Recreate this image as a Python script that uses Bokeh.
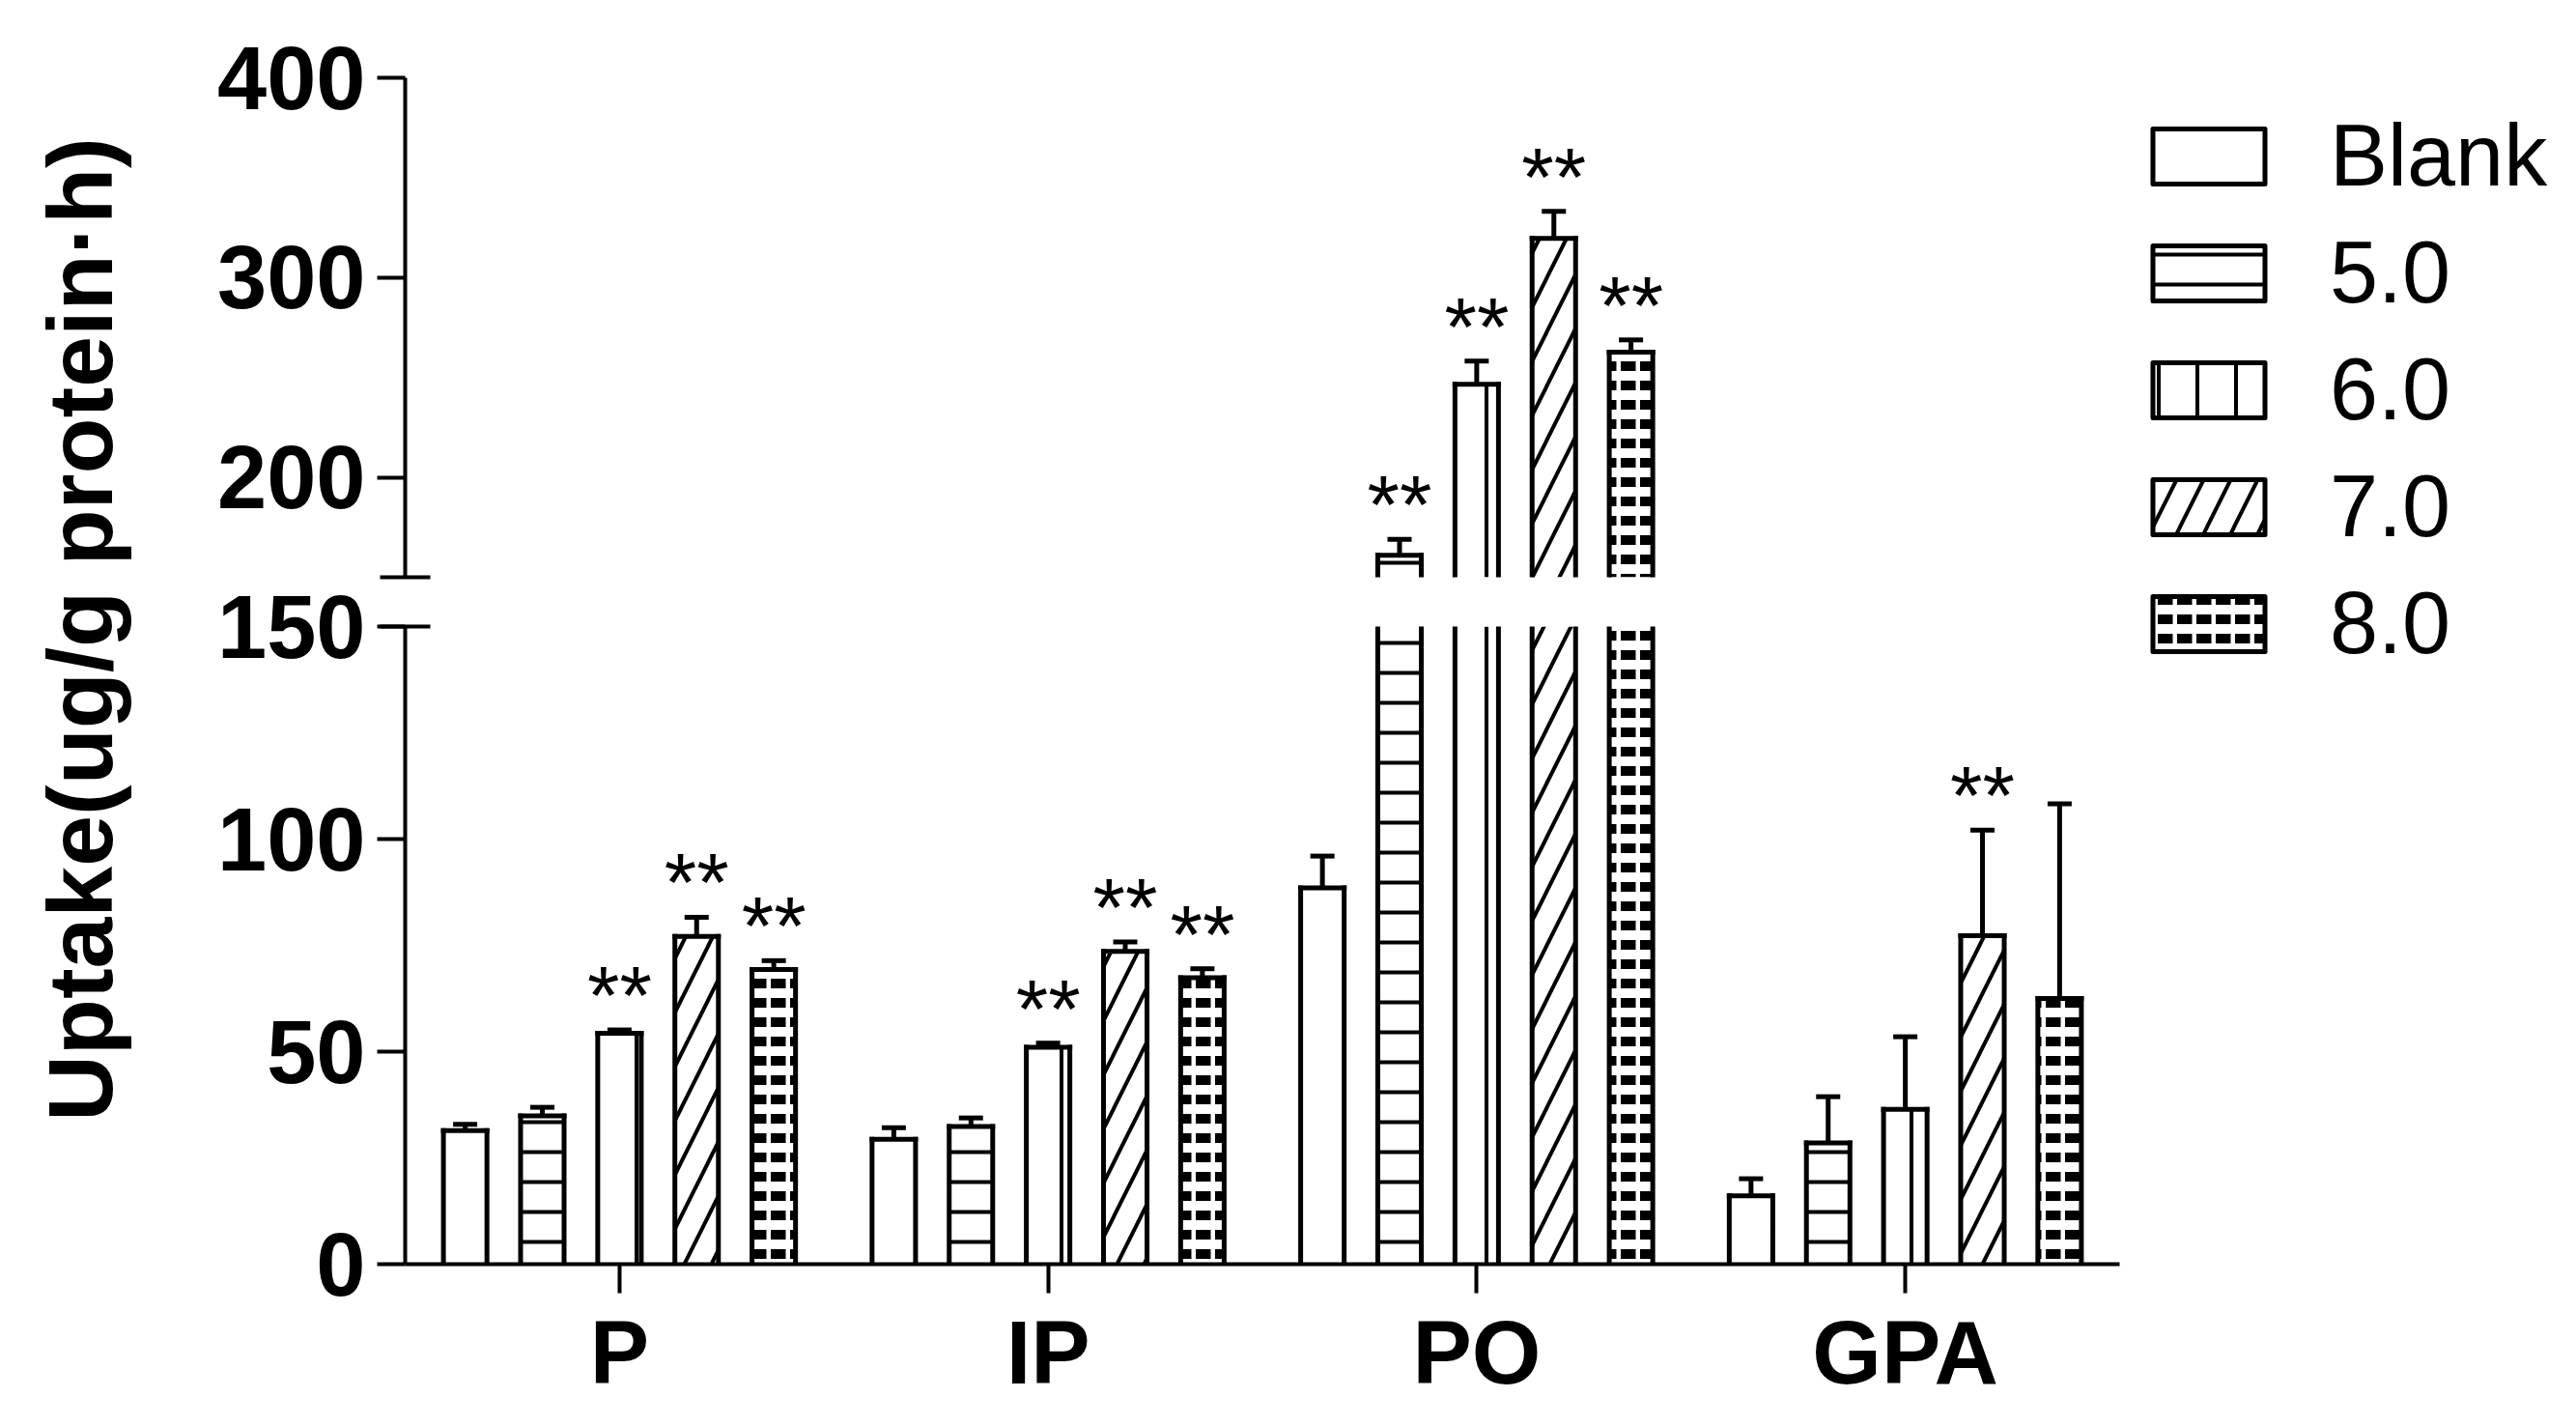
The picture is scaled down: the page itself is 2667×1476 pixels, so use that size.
import math
from bokeh.plotting import figure
from bokeh.models import (FactorRange, Range1d, FixedTicker, Legend, LegendItem,
                          ColumnDataSource, CDSView, BooleanFilter, Spacer)
from bokeh.transform import dodge
from bokeh.layouts import row, column
from bokeh.embed import file_html
from bokeh.resources import INLINE
from bokeh.core.properties import value

# ---------------- data ----------------
groups = ["P", "IP", "PO", "GPA"]
series = ["Blank", "5.0", "6.0", "7.0", "8.0"]

blank = [31.4, 29.4, 88.5, 16.1]
blank_err = [1.5, 2.7, 7.5, 4.0]
ph5 = [34.9, 32.4, 161.0, 28.5]
ph5_err = [2.0, 2.0, 8.0, 10.9]
ph6 = [54.3, 51.0, 246.6, 36.4]
ph6_err = [0.8, 1.0, 11.6, 17.1]
ph7 = [77.1, 73.6, 319.6, 77.3]
ph7_err = [4.5, 2.2, 13.5, 24.8]
ph8 = [69.3, 67.4, 262.7, 62.5]
ph8_err = [2.1, 2.1, 6.1, 45.8]

blank_sig = ["", "", "", ""]
ph5_sig = ["", "", "**", ""]
ph6_sig = ["**", "**", "**", ""]
ph7_sig = ["**", "**", "**", "**"]
ph8_sig = ["**", "**", "**", ""]

BREAK = 150
lower_ticks = [0, 50, 100, 150]
upper_ticks = [200, 300, 400]
y_label = "Uptake(ug/g protein\u00b7h)"

values = [blank, ph5, ph6, ph7, ph8]
errors = [blank_err, ph5_err, ph6_err, ph7_err, ph8_err]
sigs = [blank_sig, ph5_sig, ph6_sig, ph7_sig, ph8_sig]

# ---------------- styles ----------------
FONT = "Liberation Sans"
hatches = [
    dict(hatch_pattern=" "),
    dict(hatch_pattern="horizontal_line", hatch_scale=31, hatch_weight=4),
    dict(hatch_pattern="vertical_line", hatch_scale=40, hatch_weight=4),
    dict(hatch_pattern="right_diagonal_line", hatch_scale=56, hatch_weight=4),
    dict(hatch_pattern="horizontal_dash", hatch_scale=20, hatch_weight=10),
]
STEP = 0.18
BAR_W = 0.1015
LW = 5

LEFT = 261
FRAME_W = 1775
RIGHT = 10
W = LEFT + FRAME_W + RIGHT
OVERLAP = 20

x_range = FactorRange(factors=groups, range_padding=0)


def style_axes(p):
    p.outline_line_color = None
    p.xgrid.visible = False
    p.ygrid.visible = False
    p.background_fill_color = "white"
    for ax in p.yaxis:
        ax.axis_line_width = 4
        ax.major_tick_line_width = 4
        ax.major_tick_out = 29
        ax.major_tick_in = 0
        ax.minor_tick_line_width = 4
        ax.minor_tick_out = 26
        ax.minor_tick_in = 26
        ax.major_label_standoff = 12
        ax.major_label_text_font = FONT
        ax.major_label_text_font_style = "bold"
        ax.major_label_text_font_size = "92px"
        ax.major_label_text_color = "black"
        ax.axis_line_color = "black"
        ax.major_tick_line_color = "black"
        ax.minor_tick_line_color = "black"


def view_of(flags):
    return CDSView(filter=BooleanFilter(booleans=list(flags)))


def draw(p, upper_part):
    for i, s in enumerate(series):
        off = (i - 2) * STEP
        vals = values[i]
        ups = [v + e for v, e in zip(vals, errors[i])]
        src = ColumnDataSource(dict(group=groups, top=vals, upper=ups,
                                    zero=[0] * len(vals), stars=sigs[i]))
        if upper_part:
            bar_on = [v > BREAK for v in vals]
            top_on = bar_on
            err_on = [u > BREAK for u in ups]
            star_on = [u > BREAK and st != "" for u, st in zip(ups, sigs[i])]
        else:
            bar_on = [True] * len(vals)
            top_on = [v <= BREAK for v in vals]
            err_on = [u <= BREAK for u in ups]
            star_on = [u <= BREAK and st != "" for u, st in zip(ups, sigs[i])]
        xc = dodge("group", off, range=x_range)
        xl = dodge("group", off - BAR_W / 2, range=x_range)
        xr = dodge("group", off + BAR_W / 2, range=x_range)
        p.vbar(x=xc, top="top", bottom=0, width=BAR_W, source=src, view=view_of(bar_on),
               fill_color="white", line_color=None, hatch_color="black", **hatches[i])
        p.segment(x0=xl, y0="zero", x1=xl, y1="top", source=src, view=view_of(bar_on),
                  line_color="black", line_width=LW, line_cap="square")
        p.segment(x0=xr, y0="zero", x1=xr, y1="top", source=src, view=view_of(bar_on),
                  line_color="black", line_width=LW, line_cap="square")
        p.segment(x0=xl, y0="top", x1=xr, y1="top", source=src, view=view_of(top_on),
                  line_color="black", line_width=LW, line_cap="square")
        p.segment(x0=xc, y0="top", x1=xc, y1="upper", source=src, view=view_of(err_on),
                  line_color="black", line_width=LW)
        p.scatter(x=xc, y="upper", marker="dash", size=25, source=src, view=view_of(err_on),
                  line_color="black", line_width=LW)
        p.text(x=xc, y="upper", text="stars", source=src, view=view_of(star_on),
               text_align="center", text_baseline="alphabetic", y_offset=-36,
               text_font=value(FONT), text_font_size="86px", text_color="black")


# ---------------- upper segment ----------------
top = figure(width=W, height=599, x_range=x_range, y_range=Range1d(BREAK, 400),
             x_axis_location=None, toolbar_location=None, output_backend="svg",
             min_border_left=LEFT, min_border_right=RIGHT, min_border_top=72,
             min_border_bottom=10)
top.margin = (0, 0, -OVERLAP, 0)
top.border_fill_color = "white"
top.yaxis.ticker = FixedTicker(ticks=upper_ticks, minor_ticks=[BREAK])
style_axes(top)
draw(top, True)

# ---------------- lower segment ----------------
bottom = figure(width=W, height=861 + OVERLAP, x_range=x_range, y_range=Range1d(0, BREAK),
                toolbar_location=None, output_backend="svg",
                min_border_left=LEFT, min_border_right=RIGHT, min_border_top=41 + OVERLAP,
                min_border_bottom=160)
bottom.border_fill_color = None
bottom.yaxis.ticker = FixedTicker(ticks=lower_ticks, minor_ticks=[BREAK])
style_axes(bottom)
xa = bottom.xaxis[0]
xa.axis_line_width = 4
xa.axis_line_color = "black"
xa.major_tick_line_width = 4
xa.major_tick_line_color = "black"
xa.major_tick_out = 30
xa.major_tick_in = 0
xa.major_label_standoff = 10
xa.major_label_text_font = FONT
xa.major_label_text_font_style = "bold"
xa.major_label_text_font_size = "92px"
xa.major_label_text_color = "black"
xa.major_label_orientation = "horizontal"
draw(bottom, False)

# ---------------- y label ----------------
lab = figure(width=150, height=1460, x_range=Range1d(0, 150), y_range=Range1d(0, 1460),
             x_axis_location=None, y_axis_location=None, toolbar_location=None,
             output_backend="svg", min_border=0)
lab.outline_line_color = None
lab.xgrid.visible = False
lab.ygrid.visible = False
lab.text(x=[74], y=[817], text=[y_label], angle=math.pi / 2, text_align="center",
         text_baseline="alphabetic", text_font=value(FONT), text_font_style="bold",
         text_font_size="95px", text_color="black")

# ---------------- legend ----------------
LEG_W = 2651 - 150 - W
leg = figure(width=LEG_W, height=700, x_range=Range1d(0, 1), y_range=Range1d(0, 1),
             x_axis_location=None, y_axis_location=None, toolbar_location=None,
             output_backend="svg", min_border=0, min_border_left=10)
leg.outline_line_color = None
leg.xgrid.visible = False
leg.ygrid.visible = False
items = []
for i, s in enumerate(series):
    dsrc = ColumnDataSource(dict(x=[0.5], top=[float("nan")]))
    r = leg.vbar(x="x", top="top", bottom=0, width=0.1, source=dsrc,
                 fill_color="white", line_color="black", line_width=LW,
                 line_join="round", hatch_color="black", **hatches[i])
    items.append(LegendItem(label=s, renderers=[r]))
legend = Legend(items=items, location="top_left", orientation="vertical",
                glyph_width=145, glyph_height=71, label_standoff=53,
                label_height=57, spacing=18, margin=0, padding=10,
                label_text_font=FONT, label_text_font_size="90px",
                label_text_color="black", border_line_color=None,
                background_fill_alpha=0)
leg.add_layout(legend)

layout = row(lab, column(top, bottom), column(Spacer(width=LEG_W, height=102), leg),
             margin=(8, 0, 0, 8))
open("out.html", "w").write(file_html(layout, INLINE))
